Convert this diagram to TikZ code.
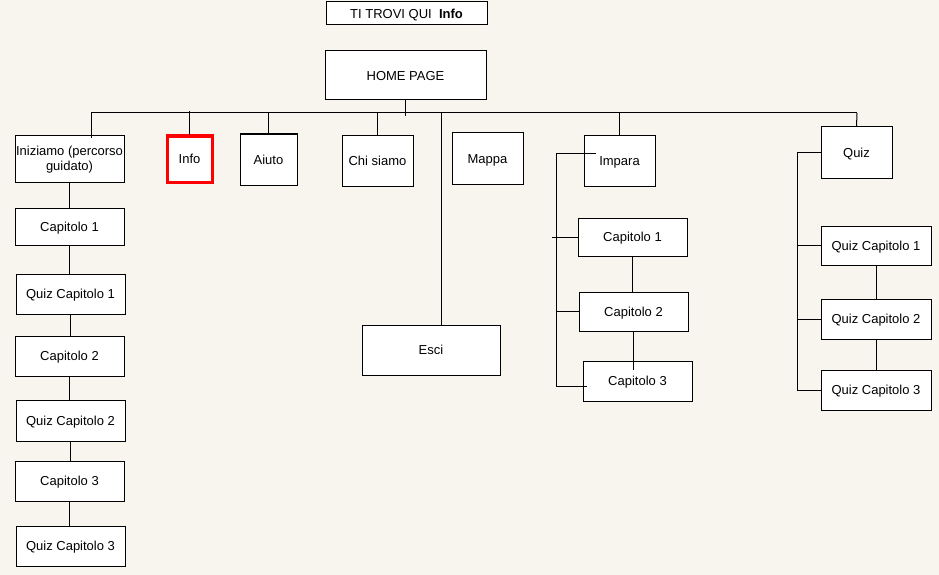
\documentclass[tikz,border=0pt]{standalone}
\usepackage{fontspec}
\setmainfont{Liberation Sans}
\usepackage{xcolor}
\usetikzlibrary{positioning,calc}
\definecolor{paper}{RGB}{248,245,238}
\tikzset{
  page/.style={draw, fill=white, line width=1pt, inner sep=1pt, align=center,
    text height=9.4pt, text depth=0pt, font=\fontsize{13}{15.5}\selectfont},
  here/.style={page, draw=red, line width=3pt},
  link/.style={line width=1pt}
}

\begin{document}
\begin{tikzpicture}[x=1pt, y=-1pt]
  % Background
  \fill[paper] (0,0) rectangle (939,575);
  \useasboundingbox (0,0) rectangle (939,575);

  % Nodes
  \node[page, minimum width=161, minimum height=23] (trovi) at (406.5,13.5) {TI TROVI QUI\ \ \textbf{Info}};
  \node[page, minimum width=161, minimum height=49] (home) at (405.5,75.5) {HOME PAGE};
  \node[page, minimum width=109, minimum height=47, inner sep=0pt, text height=] (iniz) at (69.5,158.5) {Iniziamo (percorso\\guidato)};
  \node[here, minimum width=45, minimum height=46] (info) at (189.5,159) {Info};
  \node[page, minimum width=57, minimum height=51] (aiuto) at (268.5,159.5) {Aiuto};
  \node[page, minimum width=71, minimum height=51] (chi) at (377.5,160.5) {Chi siamo};
  \node[page, minimum width=71, minimum height=51] (mappa) at (487.5,158.5) {Mappa};
  \node[page, minimum width=138, minimum height=50] (esci) at (431,350) {Esci};
  \node[page, minimum width=71, minimum height=51] (impara) at (619.5,160.5) {Impara};
  \node[page, minimum width=71, minimum height=51] (quiz) at (856.5,152.5) {Quiz};

  % left column
  \node[page, minimum width=109, minimum height=37] (lc1) at (69.5,226.5) {Capitolo 1};
  \node[page, minimum width=109, minimum height=40] (lq1) at (70.5,294) {Quiz Capitolo 1};
  \node[page, minimum width=109, minimum height=40] (lc2) at (69.5,356) {Capitolo 2};
  \node[page, minimum width=109, minimum height=41] (lq2) at (70.5,420.5) {Quiz Capitolo 2};
  \node[page, minimum width=109, minimum height=40] (lc3) at (69.5,481) {Capitolo 3};
  \node[page, minimum width=109, minimum height=40] (lq3) at (70.5,546) {Quiz Capitolo 3};

  % Impara column
  \node[page, minimum width=109, minimum height=38] (ic1) at (632.5,237) {Capitolo 1};
  \node[page, minimum width=109, minimum height=39] (ic2) at (633.5,311.5) {Capitolo 2};
  \node[page, minimum width=109, minimum height=40] (ic3) at (637.5,381) {Capitolo 3};

  % Quiz column
  \node[page, minimum width=110, minimum height=39] (qc1) at (876,245.5) {Quiz Capitolo 1};
  \node[page, minimum width=110, minimum height=40] (qc2) at (876,319) {Quiz Capitolo 2};
  \node[page, minimum width=110, minimum height=40] (qc3) at (876,390) {Quiz Capitolo 3};

  % Bus
  \coordinate (busL) at (91,113);
  \coordinate (busR) at (857,113);
  \coordinate (busE) at (441,113);
  \coordinate (impL) at (556,153);
  \coordinate (qzL) at (797,152);

  % Lines
  \draw[link] (busL) -- (busR);
  \draw[link] (home.south) -- ([yshift=-3pt]home.south |- busL);
  \draw[link] (busL) -- ([yshift=-3pt]busL |- iniz.north);
  \draw[link] (info.north) -- ([yshift=2pt]info.north |- busL);
  \draw[link] (aiuto.north) -- (aiuto.north |- busL);
  \draw[link] (chi.north) -- (chi.north |- busL);
  \draw[link] (busE) -- (busE |- esci.north);
  \draw[link] (impara.north) -- (impara.north |- busL);
  \draw[link] (quiz.north) -- (busR);

  \draw[link] (iniz.south) -- (iniz.south |- lc1.north);
  \draw[link] (lc1.south) -- (lc1.south |- lq1.north);
  \draw[link] (lq1.south) -- (lq1.south |- lc2.north);
  \draw[link] (lc2.south) -- (lc2.south |- lq2.north);
  \draw[link] (lq2.south) -- (lq2.south |- lc3.north);
  \draw[link] (lc3.south) -- (lc3.south |- lq3.north);

  \draw[link] ([xshift=12pt]impara.west |- impL) -- (impL) -- ([yshift=-5pt]impL |- ic3.west) -- ([yshift=-5pt,xshift=4pt]ic3.west);
  \draw[link] (ic1.west) -- ([xshift=-4pt]impL |- ic1.west);
  \draw[link] (ic2.west) -- (impL |- ic2.west);
  \draw[link] (ic1.south) -- (ic1.south |- ic2.north);
  \draw[link] (ic2.south) -- ([yshift=-9pt]ic2.south |- ic3.north);

  \draw[link] (quiz.west |- qzL) -- (qzL) -- (qzL |- qc3.west) -- (qc3.west);
  \draw[link] (qc1.west) -- (qzL |- qc1.west);
  \draw[link] (qc2.west) -- (qzL |- qc2.west);
  \draw[link] (qc1.south) -- (qc1.south |- qc2.north);
  \draw[link] (qc2.south) -- (qc2.south |- qc3.north);
\end{tikzpicture}
\end{document}
